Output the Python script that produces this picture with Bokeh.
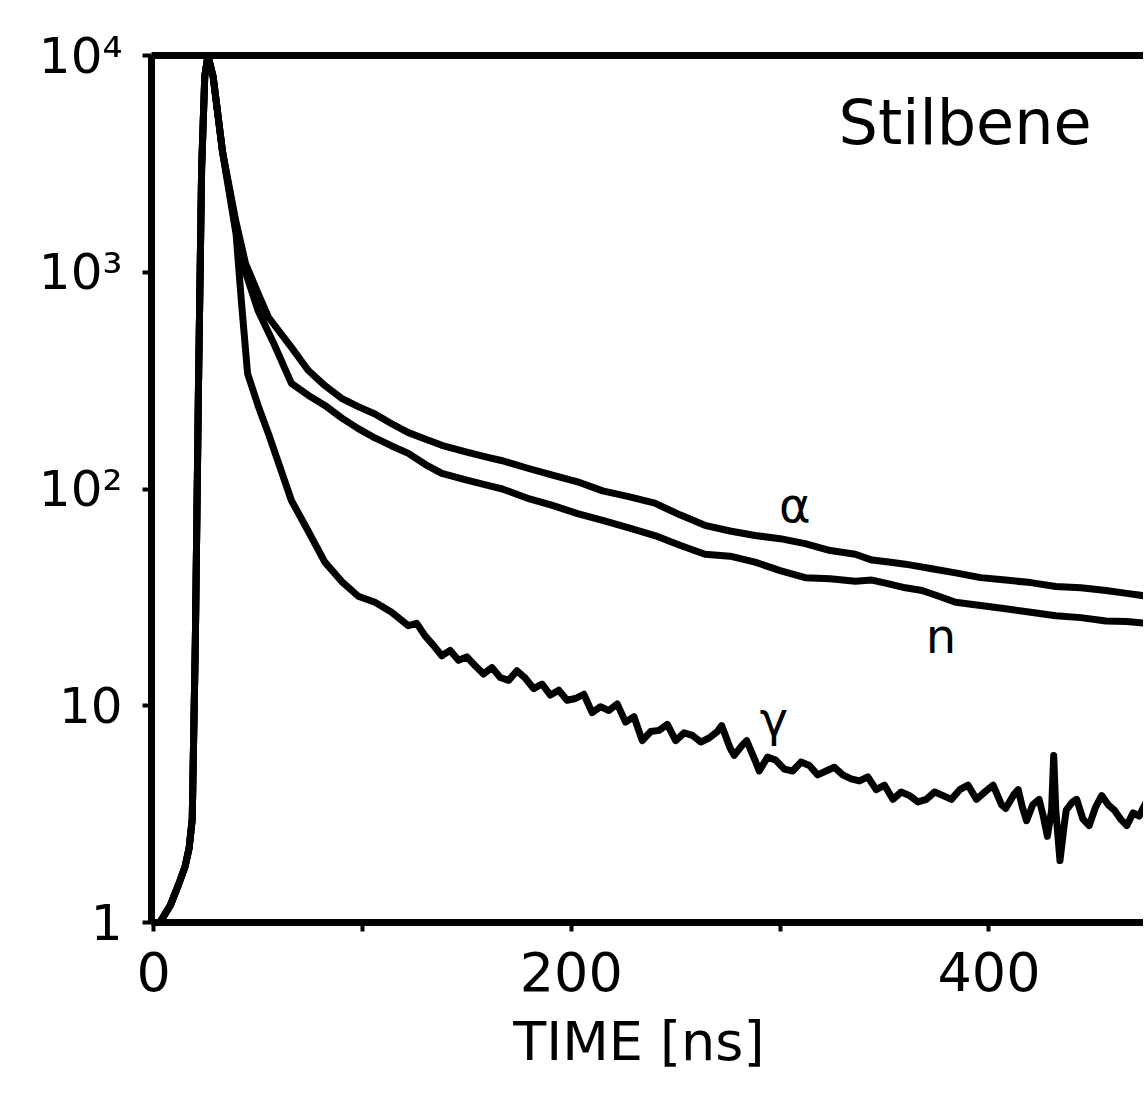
from bokeh.plotting import figure
from bokeh.models import FixedTicker, LinearAxis, Label, ColumnDataSource
from bokeh.embed import file_html
from bokeh.resources import INLINE

# ---- data ----
rise_t = [3, 8, 12, 15, 17, 18.5, 20, 21.5, 23, 24.5, 26]
rise_c = [1.0, 1.2, 1.5, 1.8, 2.2, 3.0, 20, 300, 3000, 8000, 10000]

alpha_t = [28.5, 33, 39.5, 44, 50, 55, 66, 74, 82, 90, 98, 106, 114, 122, 130, 138, 150, 160, 167, 180, 191,
           203, 215, 228, 240, 252, 264, 276, 288, 300, 312, 324, 336, 344, 352, 360, 372, 384, 396, 408,
           420, 432, 444, 456, 466, 476]
alpha_c = [8000, 3600, 1700, 1100, 800, 620, 450, 353, 300, 262, 240, 222, 200, 182, 170, 159, 148, 140, 135,
           124, 116, 108, 98, 92, 86, 76, 68, 64, 61, 59, 56, 52, 50, 47, 46, 45, 43, 41, 39, 38,
           37, 35.5, 35, 34, 33, 32]

n_t = [28.5, 33, 39.5, 44, 50, 58, 66, 74, 82, 90, 98, 106, 114, 122, 130, 138, 150, 160, 167, 180, 191,
       203, 215, 228, 240, 252, 264, 276, 288, 300, 312, 324, 336, 344, 352, 360, 368, 376, 384, 396, 408,
       420, 432, 444, 456, 466, 476]
n_c = [8000, 3600, 1600, 1000, 666, 459, 307, 271, 243, 213, 190, 172, 158, 146, 130, 118, 110, 104, 100,
       90, 84, 77, 71.6, 66, 61, 55, 50, 49, 46, 42, 39, 38.5, 37.5, 38, 36.5, 35, 34, 32, 30, 29, 28,
       27, 26, 25.5, 24.6, 24.5, 24]

gamma_t = [28.5, 33, 39.5, 42, 45, 50, 55, 66, 74, 82, 90, 98, 106, 114, 122, 126,
           130, 134, 138, 142, 146, 150, 154, 158, 162, 166, 170, 174, 178, 182, 186, 190, 194, 198, 202,
           206, 210, 214, 218, 222, 226, 230, 234, 238, 242, 246, 250, 254, 258, 262, 266, 270, 272, 276,
           278, 282, 284, 288, 290, 294, 298, 302, 306, 310, 314, 318, 322, 326, 330, 334, 338, 342, 346,
           350, 354, 358, 362, 366, 370, 374, 378, 382, 386, 390, 394, 398, 402, 406, 408, 412, 414, 416,
           418, 421, 424, 426, 428, 430, 431, 432, 434, 436, 437, 440, 442, 445, 448, 451, 454, 457, 460,
           463, 466, 469, 472, 474, 476]
gamma_c = [8000, 3600, 1500, 742, 341, 243, 180, 88.5, 64, 46, 37.5, 32, 30, 27, 23.4, 24,
           21, 19, 17, 18, 16.2, 16.8, 15.3, 14, 15, 13.5, 13.1, 14.5, 13.4, 12, 12.6, 11.2, 11.8, 10.6,
           10.8, 11.3, 9.3, 9.9, 9.5, 10.2, 8.4, 8.9, 6.9, 7.6, 7.7, 8.2, 6.9, 7.5, 7.3, 6.8, 7.1, 7.6,
           8.1, 6.4, 5.9, 6.6, 6.9, 5.6, 5.0, 5.8, 5.6, 5.1, 5.0, 5.5, 5.3, 4.8, 5.0, 5.2, 4.8, 4.6, 4.5,
           4.7, 4.1, 4.3, 3.7, 4.0, 3.85, 3.6, 3.7, 4.0, 3.85, 3.7, 4.1, 4.3, 3.7, 4.0, 4.3, 3.5, 3.36,
           3.9, 4.1, 3.4, 2.95, 3.5, 3.7, 3.1, 2.5, 3.3, 5.9, 3.3, 1.93, 2.8, 3.3, 3.6, 3.7, 3.0, 2.8,
           3.4, 3.85, 3.5, 3.3, 3.0, 2.8, 3.2, 3.1, 3.4, 3.7]

x_ticks = [0, 100, 200, 300, 400]
x_tick_labels = ["0", "", "200", "", "400"]
y_ticks = [1, 10, 100, 1000, 10000]
y_tick_labels = ["1", "10", "10²", "10³", "10⁴"]

curve_labels = ["α", "n", "γ"]
curve_label_t = [307, 377, 297]
curve_label_c = [84, 21, 8.7]

FONT = "DejaVu Sans"

p = figure(width=1143, height=1090, x_range=(-1, 474), y_range=(1, 10000),
           y_axis_type="log", output_backend="svg", toolbar_location=None,
           min_border_left=151, min_border_top=55, min_border_bottom=168, min_border_right=0)
p.outline_line_color = None
p.grid.visible = False
p.background_fill_color = "white"
p.border_fill_color = "white"

for t, c in [(alpha_t, alpha_c), (n_t, n_c), (gamma_t, gamma_c)]:
    src = ColumnDataSource(dict(t=rise_t + t, c=rise_c + c))
    p.line("t", "c", source=src, line_color="black", line_width=7, line_join="round")

# x axis
xa = p.xaxis[0]
xa.ticker = FixedTicker(ticks=x_ticks, minor_ticks=[])
xa.major_label_overrides = {k: v for k, v in zip(x_ticks, x_tick_labels)}
xa.axis_line_width = 7
xa.major_tick_line_width = 4
xa.major_tick_out = 9
xa.major_tick_in = 0
xa.minor_tick_line_color = None
xa.major_label_text_font = FONT
xa.major_label_text_font_size = "54px"
xa.major_label_text_color = "black"
xa.major_label_standoff = 20
xa.axis_label = "TIME  [ns]"
xa.axis_label_text_font = FONT
xa.axis_label_text_font_size = "54px"
xa.axis_label_text_font_style = "normal"
xa.axis_label_text_color = "black"
xa.axis_label_standoff = 16

# y axis
ya = p.yaxis[0]
ya.ticker = FixedTicker(ticks=y_ticks, minor_ticks=[])
ya.major_label_overrides = {k: v for k, v in zip(y_ticks, y_tick_labels)}
ya.axis_line_width = 7
ya.major_tick_line_width = 4
ya.major_tick_out = 9
ya.major_tick_in = 0
ya.minor_tick_line_color = None
ya.major_label_text_font = FONT
ya.major_label_text_font_size = "50px"
ya.major_label_text_color = "black"
ya.major_label_standoff = 20

# top border
top = LinearAxis(major_tick_line_color=None, minor_tick_line_color=None,
                 major_label_text_font_size="0px", axis_line_width=7)
top.ticker = FixedTicker(ticks=[])
p.add_layout(top, "above")

for txt, tt, cc in zip(curve_labels, curve_label_t, curve_label_c):
    p.add_layout(Label(x=tt, y=cc, text=txt, text_font=FONT, text_font_size="48px",
                       text_align="center", text_baseline="middle", text_color="black"))

p.add_layout(Label(x=328, y=4900, text="Stilbene", text_font=FONT, text_font_size="62px",
                   text_align="left", text_baseline="alphabetic", text_color="black"))

open("out.html", "w").write(file_html(p, INLINE))
